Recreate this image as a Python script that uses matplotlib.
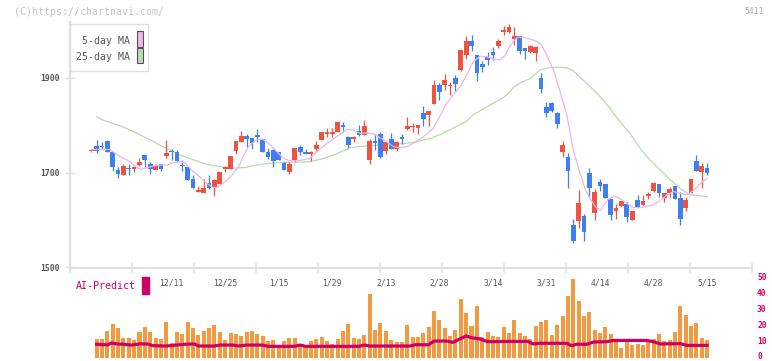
import matplotlib
matplotlib.use("Agg")
import matplotlib.pyplot as plt
from matplotlib.patches import Rectangle
from matplotlib.transforms import blended_transform_factory
import numpy as np

# ---- data (index 0 = first candle, 115 = 5/15) ----
opens = [1745, 1756, 1757, 1767, 1744, 1706, 1696, 1710, 1707, 1716,
         1737, 1718, 1706, 1718, 1735, 1746, 1744, 1716, 1712, 1687,
         1660, 1658, 1678, 1670, 1675, 1707, 1708, 1746, 1765, 1778,
         1774, 1780, 1771, 1744, 1747, 1744, 1720, 1701, 1727, 1754,
         1744, 1739, 1750, 1768, 1782, 1782, 1785, 1800, 1776, 1771,
         1788, 1780, 1727, 1767, 1782, 1746, 1771, 1749, 1775, 1792,
         1796, 1794, 1826, 1822, 1844, 1885, 1885, 1884, 1900, 1917,
         1949, 1978, 1949, 1930, 1945, 1955, 1968, 1998, 1998, 1983,
         1989, 1963, 1955, 1953, 1900, 1839, 1847, 1826, 1744, 1732,
         1589, 1597, 1608, 1699, 1615, 1680, 1676, 1644, 1618, 1630,
         1634, 1600, 1642, 1632, 1651, 1661, 1677, 1647, 1656, 1672,
         1647, 1626, 1656, 1725, 1702, 1709]
highs = [1746, 1768, 1764, 1769, 1744, 1711, 1718, 1718, 1715, 1731,
         1737, 1723, 1718, 1718, 1768, 1749, 1748, 1727, 1712, 1695,
         1672, 1687, 1695, 1686, 1702, 1715, 1735, 1767, 1788, 1782,
         1774, 1792, 1771, 1752, 1751, 1744, 1723, 1723, 1753, 1758,
         1751, 1746, 1766, 1786, 1794, 1794, 1807, 1807, 1777, 1777,
         1800, 1811, 1772, 1781, 1785, 1765, 1784, 1767, 1782, 1818,
         1804, 1801, 1841, 1830, 1896, 1889, 1909, 1891, 1906, 1959,
         1989, 1991, 1949, 1936, 1955, 1966, 1983, 2010, 2014, 2008,
         1989, 1963, 1970, 1968, 1911, 1849, 1849, 1828, 1767, 1742,
         1602, 1663, 1613, 1709, 1665, 1687, 1676, 1644, 1634, 1641,
         1639, 1619, 1653, 1653, 1659, 1681, 1677, 1658, 1670, 1672,
         1660, 1649, 1687, 1737, 1721, 1720]
lows = [1744, 1742, 1749, 1743, 1704, 1688, 1694, 1695, 1701, 1714,
        1711, 1698, 1706, 1704, 1730, 1727, 1723, 1704, 1685, 1667,
        1660, 1658, 1665, 1651, 1675, 1701, 1708, 1739, 1765, 1755,
        1749, 1764, 1744, 1729, 1712, 1727, 1706, 1697, 1723, 1737,
        1739, 1725, 1743, 1768, 1776, 1776, 1785, 1786, 1753, 1765,
        1777, 1780, 1718, 1748, 1730, 1739, 1751, 1746, 1761, 1791,
        1786, 1782, 1799, 1799, 1844, 1854, 1875, 1864, 1873, 1915,
        1940, 1956, 1894, 1913, 1928, 1937, 1964, 1991, 1996, 1970,
        1951, 1941, 1953, 1936, 1869, 1818, 1829, 1794, 1733, 1668,
        1552, 1582, 1556, 1649, 1600, 1661, 1646, 1600, 1602, 1628,
        1596, 1599, 1627, 1632, 1644, 1660, 1649, 1637, 1649, 1645,
        1589, 1618, 1656, 1704, 1668, 1696]
closes = [1745, 1746, 1754, 1744, 1712, 1698, 1713, 1707, 1711, 1722,
          1727, 1708, 1715, 1708, 1742, 1743, 1725, 1713, 1685, 1667,
          1663, 1668, 1668, 1684, 1702, 1712, 1735, 1767, 1777, 1772,
          1763, 1775, 1744, 1732, 1724, 1727, 1706, 1718, 1753, 1744,
          1739, 1744, 1758, 1786, 1786, 1785, 1807, 1796, 1758, 1775,
          1780, 1799, 1767, 1762, 1732, 1765, 1751, 1765, 1772, 1799,
          1799, 1801, 1814, 1830, 1885, 1871, 1896, 1886, 1888, 1959,
          1978, 1968, 1910, 1924, 1938, 1949, 1978, 2002, 2008, 1989,
          1957, 1958, 1968, 1965, 1877, 1826, 1830, 1803, 1758, 1704,
          1556, 1636, 1575, 1667, 1659, 1672, 1647, 1610, 1626, 1641,
          1607, 1618, 1627, 1640, 1655, 1679, 1658, 1658, 1666, 1645,
          1601, 1643, 1687, 1704, 1715, 1700]

# 5-day MA (pink), read at positions along the line
ma5_x = [0, 2, 3.5, 4.4, 5.4, 6.6, 7.5, 8.8, 9.4, 10.3, 11.6, 12.8, 14.1, 15.3,
         16.6, 17.5, 18.7, 19.7, 20.6, 21.5, 22.5, 23.1, 23.7, 25, 26.3, 27.5,
         28.5, 29.1, 30, 30.9, 31.9, 32.8, 33.7, 34.7, 35.9, 37.1, 38.4, 39.6,
         40.8, 42.1, 44, 45.8, 47.7, 48.9, 50.2, 51.4, 52.7, 53.9, 55.2, 56.4,
         57.6, 58.9, 60.1, 61.4, 62.6, 63.9, 65.1, 66.4, 67.6, 68.9, 70.1,
         71.3, 72.6, 73.8, 75.1, 76.3, 77.3, 78.2, 79.5, 80.7, 82, 83.2, 84.1,
         85, 86.3, 87.5, 88.8, 90, 91.2, 92.3, 93.2, 94.2, 95.1, 96.4, 97.6,
         98.8, 100.1, 101.3, 102.6, 103.8, 105, 106.3, 107.5, 108.8, 110,
         111.3, 112.5, 113.8, 115]
ma5_y = [1749, 1749, 1749, 1741, 1734, 1727, 1720, 1709, 1707, 1710, 1714, 1716,
         1716, 1721, 1723, 1721, 1706, 1697, 1687, 1678, 1670, 1668, 1670, 1681,
         1695, 1713, 1737, 1751, 1762, 1769, 1771, 1765, 1755, 1744, 1730, 1725,
         1725, 1727, 1730, 1744, 1762, 1776, 1792, 1790, 1783, 1784, 1782, 1774,
         1765, 1755, 1753, 1755, 1762, 1771, 1781, 1794, 1820, 1847, 1864, 1882,
         1906, 1934, 1946, 1945, 1940, 1938, 1948, 1968, 1986, 1986, 1982, 1977,
         1970, 1949, 1917, 1873, 1822, 1748, 1701, 1663, 1644, 1627, 1621, 1642,
         1651, 1645, 1634, 1626, 1626, 1629, 1632, 1642, 1653, 1660, 1656, 1653,
         1663, 1678, 1688]

# 25-day MA (green)
ma25_x = [1, 2.2, 4.1, 5.9, 7.2, 9.1, 11, 12.8, 14.7, 16.6, 18.4, 20.3, 22.2,
          24, 26.3, 28.8, 30, 31.9, 34.6, 37.1, 40.8, 43.1, 45.7, 48.2, 50.7,
          53.3, 55.8, 58.2, 60.7, 63.2, 65.7, 68.1, 70, 71.3, 73.8, 76.3, 77.6,
          78.8, 80.1, 82, 83.8, 85.7, 87.5, 89, 90, 91.3, 92.8, 95, 96.9, 98.7,
          100.6, 102.5, 104.3, 106.2, 108.1, 109.9, 111.8, 113.7, 115]
ma25_y = [1818, 1811, 1804, 1797, 1790, 1780, 1769, 1758, 1748, 1737, 1730, 1722,
          1716, 1713, 1709, 1711, 1714, 1718, 1721, 1722, 1723, 1729, 1739, 1752,
          1756, 1758, 1761, 1761, 1765, 1772, 1783, 1797, 1808, 1822, 1839, 1854,
          1864, 1880, 1890, 1899, 1917, 1922, 1923, 1921, 1915, 1901, 1886, 1861,
          1835, 1808, 1783, 1751, 1727, 1706, 1685, 1667, 1653, 1651, 1649]

# volume (right axis units), candles 1..115
volume = [11.7, 11.7, 16.7, 21.1, 18.6, 12.3, 12.3, 11.1, 16.1, 19.2,
          16.1, 12.3, 11.7, 22.3, 9.2, 16.1, 14.8, 22.3, 18.6, 14.2,
          16.7, 18.6, 20.4, 16.1, 11.1, 15.4, 14.8, 13.6, 16.1, 16.7,
          14.8, 13.6, 10.4, 11.1, 7.3, 10.4, 12.3, 12.3, 7.3, 7.3,
          10.4, 11.7, 12.9, 10.4, 8.6, 11.7, 16.7, 21.1, 12.3, 11.7,
          14.2, 39.8, 17.3, 21.9, 16.7, 11.1, 9.8, 9.8, 20.4, 12.9,
          12.9, 15.4, 19.2, 29.2, 23.6, 18.6, 13.6, 17.3, 36.7, 27.9,
          19.8, 32.3, 12.9, 16.1, 13.6, 12.9, 19.2, 15.4, 23.6, 15.4,
          13.6, 11.7, 19.8, 22.3, 23.6, 14.2, 20.4, 26.1, 38.6, 49.2,
          35.4, 26.1, 28.6, 17.3, 15.4, 19.2, 14.8, 11.1, 6.1, 9.8,
          7.9, 8.6, 7.9, 10.4, 11.7, 14.8, 10.4, 11.1, 16.1, 32.3,
          26.7, 19.8, 21.7, 12.3, 11.1]

# AI-Predict line
ai_x = [1, 3, 3.8, 4.8, 6, 7.5, 9, 10.5, 11.5, 14, 17.5, 19.3, 20, 23, 24, 26.5,
        27.5, 29, 32, 33, 38, 39, 40, 50, 51, 52, 54, 59.5, 60.5, 63, 64, 66.4,
        67.5, 69, 70, 71, 72.6, 74, 78, 81.5, 82.5, 83.5, 88.8, 89.7, 90.6,
        92.5, 93.8, 96.2, 97.5, 103.7, 105, 106.2, 110, 111.2, 115]
ai_y = [8.4, 8.0, 9.2, 8.6, 8.4, 7.9, 8.6, 8.6, 7.5, 7.3, 8.4, 8.6, 7.3, 7.3, 7.9,
        7.9, 7.3, 7.9, 7.9, 7.1, 7.1, 7.9, 7.1, 7.1, 7.9, 7.3, 7.3, 7.3, 8.1, 8.1,
        10.4, 10.4, 9.6, 12.0, 13.6, 12.5, 11.7, 10.0, 10.2, 10.2, 8.6, 9.0, 9.0,
        7.5, 8.4, 8.4, 9.8, 10.0, 10.8, 10.8, 10.0, 8.6, 8.8, 7.7, 7.7]

date_pos = [15, 25, 35, 45, 55, 65, 75, 85, 95, 105, 115]
date_labels = ["12/11", "12/25", "1/15", "1/29", "2/13", "2/28",
               "3/14", "3/31", "4/14", "4/28", "5/15"]
price_ticks = [1500, 1700, 1900]
vol_ticks = [0, 10, 20, 30, 40, 50]

W, H = 772, 361
RED = "#f05240"
BLUE = "#3f7ff0"
MAG = "#cc0066"
GRID = "#e0e0e0"
MONO = "DejaVu Sans Mono"

fig = plt.figure(figsize=(W / 100, H / 100), dpi=100)

def fx(px):
    return px / W

def fy(py):
    return 1 - py / H

xmin, xmax = (70 - 91.3) / 5.355, (752 - 91.3) / 5.355

# ---- price panel ----
ax = fig.add_axes([fx(70), fy(268), fx(682), 246 / H])
ax.set_xlim(xmin, xmax)
ax.set_ylim(1498.5, 2018.3)

idx = np.arange(len(opens))
o = np.array(opens)
c = np.array(closes)
up = c >= o
cols = np.where(up, RED, BLUE)
ax.vlines(idx, lows, highs, colors=cols, linewidth=0.9, zorder=3)
body_lo = np.minimum(o, c)
body_h = np.maximum(np.abs(c - o), 2.2)
ax.bar(idx, body_h, bottom=body_lo, width=0.88, color=cols, linewidth=0, zorder=4)

ax.plot(ma5_x, ma5_y, color="#e8b6ea", linewidth=0.9, zorder=5)
ax.plot(ma25_x, ma25_y, color="#b6dcaa", linewidth=0.9, zorder=2)

for s in ["top", "right"]:
    ax.spines[s].set_visible(False)
for s in ["left", "bottom"]:
    ax.spines[s].set_color(GRID)
    ax.spines[s].set_linewidth(1.6)

ax.set_yticks(price_ticks)
ax.set_yticklabels([str(t) for t in price_ticks], fontfamily=MONO,
                   fontsize=5.8, color="#555555", fontweight="bold")
ax.tick_params(axis="y", direction="inout", length=7, width=1, color=GRID, pad=4)
ax.set_xticks(np.linspace(xmin, xmax, 12))
ax.set_xticklabels([])
ax.tick_params(axis="x", direction="inout", length=7, width=1.2, color=GRID)

date_tr = blended_transform_factory(ax.transData, fig.transFigure)
for p, lab in zip(date_pos, date_labels):
    ax.text(p, fy(282.5), lab, transform=date_tr, ha="center", va="center",
            fontsize=5.8, fontfamily=MONO, color="#555555")

# ---- volume panel ----
vax = fig.add_axes([fx(70), fy(357.7), fx(682), 80 / H])
vax.set_xlim(xmin, xmax)
vax.set_ylim(0, 50)
vidx = np.arange(1, len(volume) + 1)
vax.bar(vidx, volume, width=0.75, color="#f29a42", linewidth=0, zorder=2)
vax.plot(ai_x, ai_y, color=MAG, linewidth=2.3, zorder=3)
for s in vax.spines.values():
    s.set_visible(False)
vax.set_xticks([])
vax.set_yticks([])
vax.patch.set_alpha(0)
vol_tr = blended_transform_factory(fig.transFigure, vax.transData)
for t in vol_ticks:
    yy = t if t > 0 else 0.9
    vax.text(fx(757), yy, str(t), transform=vol_tr, ha="left", va="center",
             fontfamily=MONO, fontsize=5.7, color=MAG, fontweight="bold")

fig.text(fx(76), fy(286), "AI-Predict", fontfamily=MONO, fontsize=7.2,
         color=MAG, ha="left", va="center")
fig.patches.append(Rectangle((fx(142), fy(294)), fx(7), 17 / H,
                             transform=fig.transFigure, color=MAG, zorder=5))

# ---- legend box ----
fig.patches.append(Rectangle((fx(70), fy(71)), fx(78), 47 / H, transform=fig.transFigure,
                             facecolor="white", edgecolor="#dddddd", linewidth=1, zorder=5))
fig.patches.append(Rectangle((fx(136.7), fy(46.5)), fx(6), 15.5 / H, transform=fig.transFigure,
                             facecolor="#ecb8ec", edgecolor="#555555", linewidth=0.8, zorder=6))
fig.patches.append(Rectangle((fx(136.7), fy(63.3)), fx(6), 15 / H, transform=fig.transFigure,
                             facecolor="#b8ddb0", edgecolor="#555555", linewidth=0.8, zorder=6))
fig.text(fx(129.5), fy(40.7), "5-day MA", fontfamily=MONO, fontsize=7.1,
         color="#555555", ha="right", va="center", zorder=7)
fig.text(fx(129.5), fy(57.3), "25-day MA", fontfamily=MONO, fontsize=7.1,
         color="#555555", ha="right", va="center", zorder=7)

fig.text(fx(14), fy(12), "(C)https://chartnavi.com/", fontfamily=MONO, fontsize=7.1,
         color="#c4c4c4", ha="left", va="center")
fig.text(fx(764), fy(12), "5411", fontfamily=MONO, fontsize=5.8,
         color="#aaaaaa", ha="right", va="center")

fig.savefig("out.png", dpi=100)
